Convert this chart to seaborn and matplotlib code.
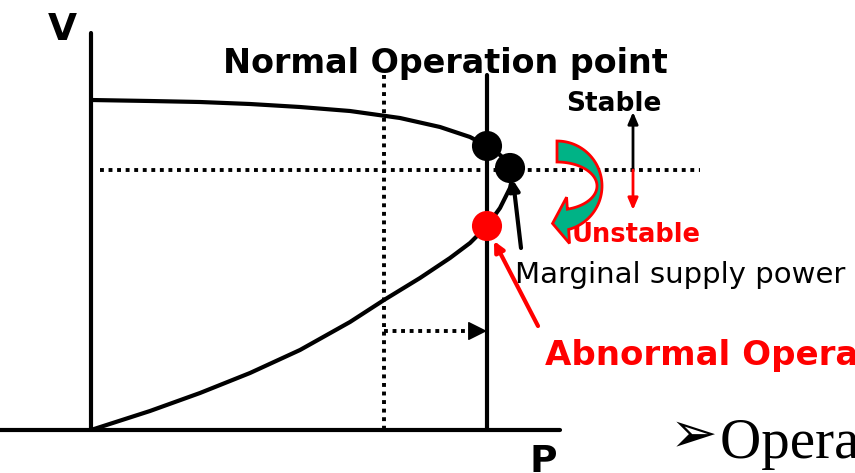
import matplotlib
matplotlib.use("Agg")
import matplotlib.pyplot as plt
import seaborn as sns
import pandas as pd
import numpy as np
from matplotlib.patches import Polygon

# P-V nose curve (pixel-like units, y grows downward)
upper_p = [91, 150, 200, 250, 300, 350, 400, 440, 470, 487, 500, 510, 514]
upper_v = [100, 101, 102, 104, 107, 111, 118, 127, 137, 146, 155, 164, 170]
lower_p = [91, 150, 200, 250, 300, 350, 384, 420, 450, 470, 487, 500, 510, 514]
lower_v = [430, 411, 393, 373, 350, 322, 300, 278, 258, 243, 226, 208, 188, 170]

points_p = [487, 510, 487]
points_v = [146, 168, 226]
point_kind = ["normal", "marginal", "abnormal"]

p_now, p_max = 384, 487
v_level = 170

sns.set_style("white")
plt.rcParams["text.color"] = "black"
fig = plt.figure(figsize=(8.55, 4.73), dpi=100)
ax = fig.add_axes([0, 0, 1, 1])
ax.set_xlim(0, 855)
ax.set_ylim(473, 0)
ax.axis("off")

dots = (0, (1, 1.2))
# axes of the diagram
ax.plot([91, 91], [33, 430], color="black", lw=3)
ax.plot([0, 560], [430, 430], color="black", lw=3)
ax.plot([p_max, p_max], [75, 428], color="black", lw=3)
ax.plot([p_now, p_now], [75, 428], color="black", lw=2.8, ls=dots)
ax.plot([100, 700], [v_level, v_level], color="black", lw=2.8, ls=dots)

curves = pd.concat([
    pd.DataFrame({"P": upper_p, "V": upper_v, "branch": "upper"}),
    pd.DataFrame({"P": lower_p, "V": lower_v, "branch": "lower"}),
])
sns.lineplot(data=curves, x="P", y="V", units="branch", estimator=None, sort=False,
             color="black", lw=3, ax=ax)

pts = pd.DataFrame({"P": points_p, "V": points_v, "kind": point_kind})
sns.scatterplot(data=pts, x="P", y="V", hue="kind",
                palette={"normal": "black", "marginal": "black", "abnormal": "#ff0000"},
                s=470, edgecolor="none", legend=False, ax=ax, zorder=5)

# dotted shift arrow
ax.plot([p_now, p_max - 16], [331, 331], color="black", lw=2.8, ls=dots)
ax.annotate("", xy=(p_max, 331), xytext=(p_max - 17, 331),
            arrowprops=dict(arrowstyle="-|>,head_length=1.2,head_width=0.6", color="black",
                            lw=1, shrinkA=0, shrinkB=0))

# stable / unstable arrows
ax.annotate("", xy=(633, 112), xytext=(633, v_level),
            arrowprops=dict(arrowstyle="-|>,head_length=0.7,head_width=0.3", color="black",
                            lw=2, shrinkA=0, shrinkB=0))
ax.annotate("", xy=(633, 210), xytext=(633, v_level),
            arrowprops=dict(arrowstyle="-|>,head_length=0.7,head_width=0.3", color="#ff0000",
                            lw=2, shrinkA=0, shrinkB=0))

# pointer arrows
ax.annotate("", xy=(513, 180), xytext=(521, 248),
            arrowprops=dict(arrowstyle="-|>,head_length=0.6,head_width=0.3", color="black",
                            lw=3, shrinkA=0, shrinkB=0))
ax.annotate("", xy=(494, 241), xytext=(538, 326),
            arrowprops=dict(arrowstyle="-|>,head_length=0.6,head_width=0.3", color="#ff0000",
                            lw=3, shrinkA=0, shrinkB=0))

ax.text(572, 242, "Unstable", color="#ff0000", fontsize=18.5, fontweight="bold",
        va="baseline", ha="left")

# green ribbon U-turn arrow drawn over the "Unstable" label
cx, cy = 557, 186
th = np.radians(np.linspace(-90, 75, 60))
outer = np.column_stack([cx + 45 * np.cos(th), cy + 45 * np.sin(th)])
inner = np.column_stack([cx + 40 * np.cos(th), cy + 24 * np.sin(th)])
n = outer[-1] - inner[-1]
n = n / np.hypot(*n)
tang = np.array([-np.sin(th[-1]), np.cos(th[-1])])
mid = (outer[-1] + inner[-1]) / 2
head = np.array([outer[-1] + 14 * n, mid + 16 * tang, inner[-1] - 12 * n])
ribbon = np.vstack([outer, head, inner[::-1]])
ax.add_patch(Polygon(ribbon, closed=True, fc="#00b386", ec="#ff0000", lw=2,
                     joinstyle="miter", zorder=6))

ax.text(62, 40, "V", fontsize=27, fontweight="bold", ha="center", va="baseline")
ax.text(543, 472, "P", fontsize=27, fontweight="bold", ha="center", va="baseline")
ax.text(445, 73, "Normal Operation point", fontsize=24, fontweight="bold",
        ha="center", va="baseline")
ax.text(566, 111, "Stable", fontsize=19, fontweight="bold", ha="left", va="baseline")
ax.text(515, 283, "Marginal supply power", fontsize=21, ha="left", va="baseline")
ax.text(545, 365, "Abnormal Operation point", fontsize=24.5, fontweight="bold",
        color="#ff0000", ha="left", va="baseline")
ax.text(670, 437, "➢", fontsize=41, ha="left", va="center", family="DejaVu Sans")
ax.text(720, 458, "Operating point", fontsize=41, ha="left", va="baseline",
        family="Liberation Serif")

fig.savefig("out.png", dpi=100)
